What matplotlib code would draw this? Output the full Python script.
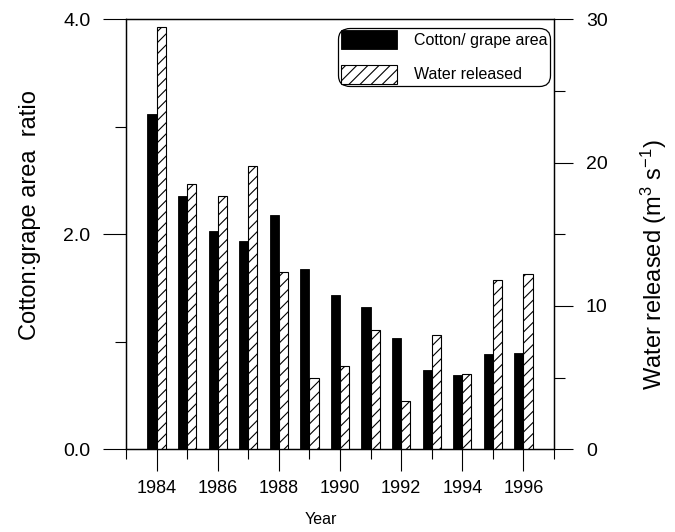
import matplotlib
matplotlib.use("Agg")
import matplotlib.pyplot as plt
from matplotlib.ticker import MultipleLocator, FixedLocator, FormatStrFormatter
import numpy as np

plt.rcParams['font.family'] = ['Liberation Sans', 'DejaVu Sans']
plt.rcParams['mathtext.default'] = 'regular'
plt.rcParams['hatch.linewidth'] = 0.8

years = [1984, 1985, 1986, 1987, 1988, 1989, 1990, 1991, 1992, 1993, 1994, 1995, 1996]
cotton_grape_ratio = [3.12, 2.36, 2.03, 1.94, 2.18, 1.68, 1.44, 1.32, 1.04, 0.74, 0.69, 0.89, 0.90]
water_released = [29.5, 18.5, 17.7, 19.8, 12.4, 5.0, 5.8, 8.3, 3.4, 7.95, 5.25, 11.8, 12.25]

fig = plt.figure(figsize=(6.75, 5.32), dpi=100)
ax = fig.add_axes([0.1867, 0.1555, 0.634, 0.808])
ax2 = ax.twinx()

x = np.array(years)
w = 0.3
b1 = ax.bar(x - w, cotton_grape_ratio, width=w, align='edge', color='black',
            edgecolor='black', linewidth=0.6, label='Cotton/ grape area')
b2 = ax2.bar(x, water_released, width=w, align='edge', color='white',
             edgecolor='black', linewidth=0.8, hatch='///', label='Water released')

ax.set_xlim(1983, 1997)
ax.set_ylim(0, 4)
ax2.set_ylim(0, 30)

ax.xaxis.set_major_locator(FixedLocator(list(range(1984, 1997, 2))))
ax.xaxis.set_minor_locator(MultipleLocator(1))
ax.yaxis.set_major_locator(MultipleLocator(2))
ax.yaxis.set_minor_locator(MultipleLocator(1))
ax.yaxis.set_major_formatter(FormatStrFormatter('%.1f'))
ax2.yaxis.set_major_locator(MultipleLocator(10))
ax2.yaxis.set_minor_locator(MultipleLocator(5))

ax.tick_params(axis='x', which='major', length=16, width=0.8, pad=6, labelsize=13, direction='out')
ax.tick_params(axis='x', which='minor', length=7, width=0.8, direction='out')
ax.tick_params(axis='y', which='major', length=16.5, width=0.8, pad=9, labelsize=14, direction='out')
ax.tick_params(axis='y', which='minor', length=8, width=0.8, direction='out')
ax2.tick_params(axis='y', which='major', length=14, width=0.8, pad=9, labelsize=14, direction='out')
ax2.tick_params(axis='y', which='minor', length=8, width=0.8, direction='out')

for a in (ax, ax2):
    for s in a.spines.values():
        s.set_linewidth(0.9)

ax.set_xlabel('Year', fontsize=11.5)
ax.xaxis.set_label_coords(0.456, -0.146)
ax.set_ylabel('Cotton:grape area  ratio', fontsize=17)
ax.yaxis.set_label_coords(-0.199, 0.545)
ax2.set_ylabel('Water released (m$^3$ s$^{-1}$)', fontsize=17)
ax2.yaxis.set_label_coords(1.199, 0.431)

leg = ax2.legend([b1, b2], ['Cotton/ grape area', 'Water released'],
                 loc='upper right', bbox_to_anchor=(0.991, 0.98), borderaxespad=0,
                 fontsize=11.5, handlelength=3.5, handleheight=1.45,
                 handletextpad=1.1, labelspacing=0.95, fancybox=True,
                 frameon=True, borderpad=0.15)
leg.get_frame().set_edgecolor('black')
leg.get_frame().set_linewidth(0.9)
leg.get_frame().set_alpha(1)
leg.get_frame().set_boxstyle('round,pad=0,rounding_size=0.7')

fig.savefig('out.png', dpi=100)
